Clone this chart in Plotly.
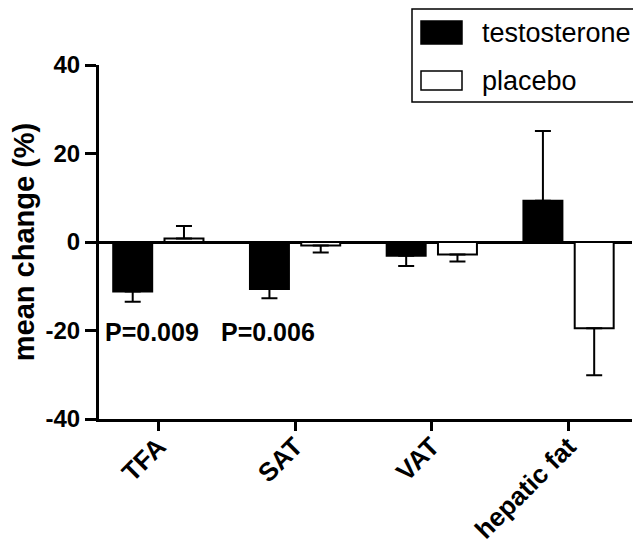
import plotly.graph_objects as go

categories = ["TFA", "SAT", "VAT", "hepatic fat"]
series_names = ["testosterone", "placebo"]
testosterone = [-11.2, -10.6, -3.1, 9.3]
testosterone_err = [2.3, 2.1, 2.3, 15.8]
placebo = [0.8, -0.8, -2.8, -19.5]
placebo_err = [2.8, 1.6, 1.6, 10.6]
p_labels = ["P=0.009", "P=0.006"]
p_positions = [-0.05, 0.8]
p_y = [-20.3, -20.3]
y_ticks = [-40, -20, 0, 20, 40]
y_tick_labels = ["-40", "-20", "0", "20", "40"]

FONT = "Arial, Liberation Sans, sans-serif"
x_idx = list(range(len(categories)))


def err_split(vals, errs):
    up = [e if v >= 0 else 0 for v, e in zip(vals, errs)]
    down = [e if v < 0 else 0 for v, e in zip(vals, errs)]
    return up, down


fig = go.Figure()
for name, vals, errs, fill in [
    (series_names[0], testosterone, testosterone_err, "black"),
    (series_names[1], placebo, placebo_err, "white"),
]:
    up, down = err_split(vals, errs)
    fig.add_trace(go.Bar(
        name=name, x=x_idx, y=vals,
        marker=dict(color=fill, line=dict(color="black", width=2)),
        error_y=dict(type="data", symmetric=False, array=up, arrayminus=down,
                     color="black", thickness=2, width=8),
        showlegend=False,
    ))

for txt, xp, yp in zip(p_labels, p_positions, p_y):
    fig.add_annotation(x=xp, y=yp, xref="x", yref="y", text=txt, showarrow=False,
                       font=dict(family=FONT, size=25, color="black", weight="bold"),
                       xanchor="center", yanchor="middle")

# legend drawn in paper coordinates (relative to the plot area)
PW, PH, PL, PB = 533, 354, 99, 419
fig.add_shape(type="rect", xref="paper", yref="paper",
              x0=(412 - PL) / PW, x1=(636 - PL) / PW,
              y0=(PB - 102) / PH, y1=(PB - 9) / PH,
              line=dict(color="black", width=1.5), fillcolor="white")
legend_rows = [(series_names[0], "black", 21, 44, 33), (series_names[1], "white", 71, 90, 81)]
for name, fill, ytop, ybot, ytxt in legend_rows:
    fig.add_shape(type="rect", xref="paper", yref="paper",
                  x0=(421 - PL) / PW, x1=(462 - PL) / PW,
                  y0=(PB - ybot) / PH, y1=(PB - ytop) / PH,
                  line=dict(color="black", width=1.5), fillcolor=fill)
    fig.add_annotation(xref="paper", yref="paper", x=(480 - PL) / PW, y=(PB - ytxt) / PH,
                       text=name, showarrow=False, xanchor="left", yanchor="middle",
                       font=dict(family=FONT, size=27, color="black"))

# page body has an 8px margin, so shift the plot area to land at the reference pixels
fig.update_layout(
    width=641, height=546,
    margin=dict(l=91, r=17, t=57, b=135),
    paper_bgcolor="white", plot_bgcolor="white",
    barmode="group", bargap=0.25, bargroupgap=0.24,
    font=dict(family=FONT, color="black"),
)
fig.update_xaxes(
    range=[-0.434, 3.464], tickvals=x_idx, ticktext=categories,
    showline=True, linecolor="black", linewidth=3, automargin=False,
    ticks="outside", ticklen=9, tickwidth=3, tickcolor="black",
    tickangle=-45, tickfont=dict(family=FONT, size=26, color="black", weight="bold"),
    ticklabelstandoff=-10,
    showgrid=False, zeroline=False,
)
fig.update_yaxes(
    range=[-40, 40], tickvals=y_ticks, ticktext=y_tick_labels,
    showline=True, linecolor="black", linewidth=3, automargin=False,
    ticks="outside", ticklen=11, tickwidth=3, tickcolor="black",
    tickfont=dict(family=FONT, size=24, color="black", weight="bold"),
    showgrid=False, zeroline=True, zerolinecolor="black", zerolinewidth=3,
    title=dict(text="mean change (%)", standoff=4,
               font=dict(family=FONT, size=29, color="black", weight="bold")),
)

fig.write_html("out.html")
